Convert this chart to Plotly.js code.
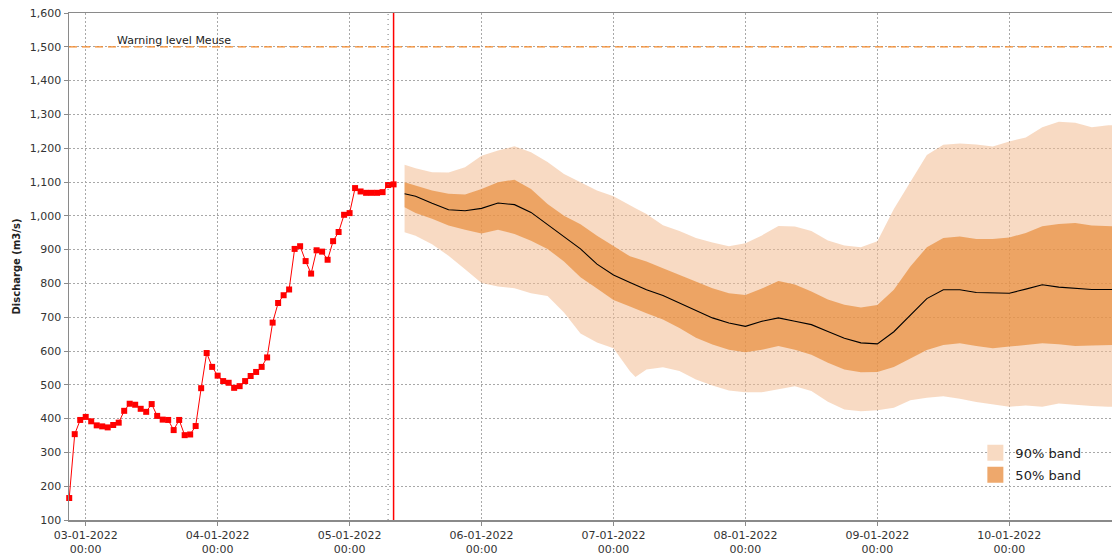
<!DOCTYPE html>
<html><head><meta charset="utf-8">
<script src="https://cdn.plot.ly/plotly-3.0.1.min.js"></script>
<style>html,body{margin:0;padding:0;background:#fff;} #chart{width:1112px;height:558px;}</style>
</head><body><div id="chart"></div>
<script>
// ---- data ----
const baseDate = Date.UTC(2022, 0, 3);          // 03-01-2022 00:00 (dd-mm-yyyy)
const obsStartHour = -3;                         // hourly observations
const obsValues = [
  165,354,396,405,392,380,377,374,381,388,
  423,444,441,429,420,443,408,397,396,366,
  396,351,353,378,490,594,553,527,511,506,
  491,496,511,526,538,553,581,684,742,765,
  782,902,910,866,829,898,894,870,925,952,
  1003,1008,1082,1072,1068,1068,1068,1070,1091,1093
];
const fcHours  = [58,60,63,66,69,72,75,78,81,84,87,90,93,96,99,100,102,105,108,111,114,117,120,123,126,129,132,135,138,141,144,147,150,153,156,159,162,165,168,171,174,177,180,183,186,187];
const fcP95    = [1151,1141,1129,1128,1144,1178,1193,1206,1188,1159,1124,1099,1075,1058,1030,1022,1005,972,955,934,921,910,919,942,970,968,955,927,912,907,925,1020,1100,1180,1210,1214,1211,1205,1220,1232,1262,1278,1275,1262,1268,1268];
const fcP75    = [1099,1090,1075,1065,1063,1079,1099,1107,1079,1035,1000,975,941,911,880,875,865,845,826,806,786,771,766,785,807,797,776,752,737,729,736,781,850,907,934,939,931,931,936,949,969,976,979,971,969,969];
const fcMedian = [1065,1058,1037,1018,1015,1022,1038,1033,1010,974,939,902,857,825,803,796,781,764,742,718,698,683,673,688,698,688,678,658,638,624,621,657,707,755,781,781,773,771,771,783,796,789,786,782,782,782];
const fcP25    = [1025,1008,991,971,959,948,959,946,926,902,865,818,785,751,732,725,712,693,668,639,619,604,596,604,615,604,589,565,545,537,538,553,578,603,618,623,615,608,613,618,623,620,615,616,618,618];
const fcP5     = [951,941,916,882,842,801,791,786,771,763,714,652,625,608,540,523,545,552,541,516,498,483,478,478,487,496,482,450,427,422,425,432,454,462,466,459,449,442,435,439,435,445,440,437,435,435];
const warningLevel = 1500;
const warningLabel = 'Warning level Meuse';
const forecastTimeHour = 56;
const systemTimeHour = 55;
const xRangeHours = [-3.04, 186.68];
const yRange = [100, 1600];
const yTitle = 'Discharge (m3/s)';
const bandNames = ['90% band', '50% band'];

// ---- helpers ----
function hourToDate(h) {
  const d = new Date(baseDate + Math.round(h * 3600000));
  const p = n => String(n).padStart(2, '0');
  return d.getUTCFullYear() + '-' + p(d.getUTCMonth() + 1) + '-' + p(d.getUTCDate()) + ' ' +
         p(d.getUTCHours()) + ':' + p(d.getUTCMinutes()) + ':' + p(d.getUTCSeconds());
}
const obsX = obsValues.map((_, i) => hourToDate(obsStartHour + i));
const fcX = fcHours.map(hourToDate);

const lightFill = 'rgba(242,188,146,0.55)';
const darkFill = 'rgba(231,135,49,0.65)';
const FONT = 'DejaVu Sans';

const traces = [
  {x: fcX, y: fcP5, mode: 'lines', line: {width: 0, color: 'rgba(0,0,0,0)'}, showlegend: false, hoverinfo: 'skip'},
  {x: fcX, y: fcP95, mode: 'lines', line: {width: 0, color: 'rgba(0,0,0,0)'}, fill: 'tonexty', fillcolor: lightFill, showlegend: false},
  {x: fcX, y: fcP25, mode: 'lines', line: {width: 0, color: 'rgba(0,0,0,0)'}, showlegend: false, hoverinfo: 'skip'},
  {x: fcX, y: fcP75, mode: 'lines', line: {width: 0, color: 'rgba(0,0,0,0)'}, fill: 'tonexty', fillcolor: darkFill, showlegend: false},
  {x: fcX, y: fcMedian, mode: 'lines', line: {width: 1.1, color: '#000'}, showlegend: false},
  {x: obsX, y: obsValues, mode: 'lines+markers', line: {width: 1, color: '#ff0000'},
   marker: {symbol: 'square', size: 6, color: '#ff0000'}, cliponaxis: false, showlegend: false},
  {x: [null], y: [null], mode: 'markers', name: bandNames[0], marker: {symbol: 'square', size: 16, color: '#f8dac2'}, legendgroup: 'a'},
  {x: [null], y: [null], mode: 'markers', name: bandNames[1], marker: {symbol: 'square', size: 16, color: '#eea86c'}, legendgroup: 'b'}
];

const layout = {
  width: 1112, height: 558,
  margin: {l: 69, r: 0, t: 13, b: 38},
  paper_bgcolor: '#fff', plot_bgcolor: '#fff',
  font: {family: FONT, size: 11, color: '#222'},
  showlegend: true,
  legend: {x: 0.869, y: 0.162, xanchor: 'left', yanchor: 'top', bgcolor: 'rgba(0,0,0,0)',
           font: {family: FONT, size: 13, color: '#222'}, tracegroupgap: 2, traceorder: 'grouped', itemwidth: 30},
  xaxis: {
    type: 'date', range: [hourToDate(xRangeHours[0]), hourToDate(xRangeHours[1])],
    tick0: hourToDate(0), dtick: 86400000, tickformat: '%d-%m-%Y<br>%H:%M',
    showgrid: true, gridcolor: '#a8a8a8', griddash: '2px,2px', gridwidth: 1,
    showline: true, linecolor: '#8a8a8a', linewidth: 1.5, mirror: true,
    ticks: 'outside', ticklen: 4, tickcolor: '#8a8a8a',
    tickfont: {family: FONT, size: 11, color: '#333'}, zeroline: false
  },
  yaxis: {
    range: yRange, dtick: 100, tickformat: ',d',
    showgrid: true, gridcolor: '#a8a8a8', griddash: '2px,2px', gridwidth: 1,
    showline: true, linecolor: '#8a8a8a', linewidth: 1.5,
    ticks: 'outside', ticklen: 4, tickcolor: '#8a8a8a',
    tickfont: {family: FONT, size: 11, color: '#333'}, zeroline: false,
    title: {text: yTitle, font: {family: FONT, size: 10, color: '#222', weight: 'bold'}, standoff: 7}
  },
  shapes: [
    {type: 'line', xref: 'paper', x0: 0, x1: 1, yref: 'y', y0: warningLevel, y1: warningLevel,
     line: {color: '#f5892a', width: 1.3, dash: '8px,5px'}},
    {type: 'line', xref: 'x', x0: hourToDate(systemTimeHour), x1: hourToDate(systemTimeHour), yref: 'paper', y0: 0, y1: 1,
     line: {color: '#777', width: 1, dash: '1px,4px'}},
    {type: 'line', xref: 'x', x0: hourToDate(forecastTimeHour), x1: hourToDate(forecastTimeHour), yref: 'paper', y0: 0, y1: 1,
     line: {color: '#ff0000', width: 1.5}}
  ],
  annotations: [
    {text: warningLabel, xref: 'paper', x: 0.044, xanchor: 'left', yref: 'y', y: warningLevel, yanchor: 'bottom',
     yshift: -2, showarrow: false, font: {family: FONT, size: 11, color: '#222'}}
  ]
};

Plotly.newPlot('chart', traces, layout, {displayModeBar: false, staticPlot: true});
</script>
</body></html>
